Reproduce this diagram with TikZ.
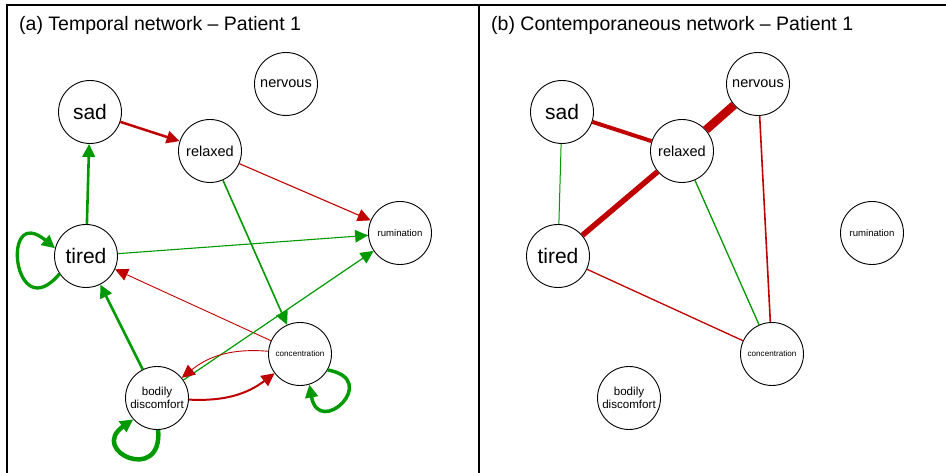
\documentclass[tikz,border=0pt]{standalone}
\usepackage{fontspec}
\setmainfont{Liberation Sans}
\usetikzlibrary{arrows.meta}

\definecolor{posgreen}{HTML}{009900}
\definecolor{negred}{HTML}{C00000}

\begin{document}
\begin{tikzpicture}[
  x=1pt,y=1pt,
  font=\fontsize{14.5}{16}\selectfont,
  var/.style={circle,draw=black,line width=.9pt,fill=white,minimum size=63pt,
              inner sep=0pt,align=center},
  big/.style={font=\fontsize{21}{24}\selectfont},
  mid/.style={font=\fontsize{11.6}{12.8}\selectfont},
  small/.style={font=\fontsize{9.6}{11}\selectfont},
  tiny/.style={font=\fontsize{8.1}{9}\selectfont},
  paneltitle/.style={anchor=base west,inner sep=0pt,font=\fontsize{19.5}{22}\selectfont},
  posedge/.style={draw=posgreen},
  negedge/.style={draw=negred},
  arr/.style={-{Triangle[length=13pt,width=12.5pt]}}
]
\useasboundingbox (0,0) rectangle (946,-473);
% panel frame, open at the bottom and on the right
\draw[line width=1.3pt] (7,-473) -- (7,-5) -- (946,-5);
\draw[line width=1.3pt] (479,-5) -- (479,-473);

% (a) temporal network
\node[paneltitle] (ttitle) at (19,-31) {(a) Temporal network – Patient 1};
\node[var,big] (tsad) at (90,-112) {sad};
\node[var] (tnervous) at (286,-84) {nervous};
\node[var] (trelaxed) at (210,-151) {relaxed};
\node[var,small] (trumination) at (400,-233) {rumination};
\node[var,big] (ttired) at (86,-256) {tired};
\node[var,tiny] (tconc) at (300,-354) {concentration};
\node[var,mid] (tbodily) at (157,-398) {bodily\\discomfort};

\draw[negedge,arr,line width=2.5pt] (tsad) -- (trelaxed);
\draw[negedge,arr,line width=1.1pt] (trelaxed) -- (trumination);
\draw[posedge,arr,line width=1.6pt] (trelaxed) -- (tconc);
\draw[posedge,arr,line width=2.6pt] (ttired) -- (tsad);
\draw[posedge,arr,line width=1.1pt] (ttired) -- (trumination);
\draw[negedge,arr,line width=.9pt] (tconc) -- (ttired);
\draw[posedge,arr,line width=1.2pt] (tbodily) -- (trumination);
\draw[posedge,arr,line width=2.5pt] (tbodily) -- (ttired);
\draw[negedge,arr,line width=.9pt] (tconc) to[bend right=22] (tbodily);
\draw[negedge,arr,line width=2pt] (tbodily) to[bend right=20] (tconc);
% self-loops (autoregressive effects)
\draw[posedge,arr,line width=3.3pt] (ttired.214) to[out=230,in=140,distance=72pt] (ttired.166);
\draw[posedge,arr,line width=4.5pt] (tbodily.272) to[out=275,in=215,distance=55pt] (tbodily.222);
\draw[posedge,arr,line width=3.5pt] (tconc.330) to[out=350,in=280,distance=55pt] (tconc.287);

% (b) contemporaneous network
\node[paneltitle] (ctitle) at (491,-31) {(b) Contemporaneous network – Patient 1};
\node[var,big] (csad) at (562,-112) {sad};
\node[var] (cnervous) at (758,-84) {nervous};
\node[var] (crelaxed) at (682,-151) {relaxed};
\node[var,small] (crumination) at (872,-233) {rumination};
\node[var,big] (ctired) at (558,-256) {tired};
\node[var,tiny] (cconc) at (772,-354) {concentration};
\node[var,mid] (cbodily) at (629,-398) {bodily\\discomfort};

\draw[negedge,line width=4pt] (csad) -- (crelaxed);
\draw[negedge,line width=8.5pt] (cnervous) -- (crelaxed);
\draw[negedge,line width=5.5pt] (crelaxed) -- (ctired);
\draw[posedge,line width=1pt] (csad) -- (ctired);
\draw[posedge,line width=1.3pt] (crelaxed) -- (cconc);
\draw[negedge,line width=1.6pt] (cnervous) -- (cconc);
\draw[negedge,line width=1.3pt] (ctired) -- (cconc);
\end{tikzpicture}
\end{document}
